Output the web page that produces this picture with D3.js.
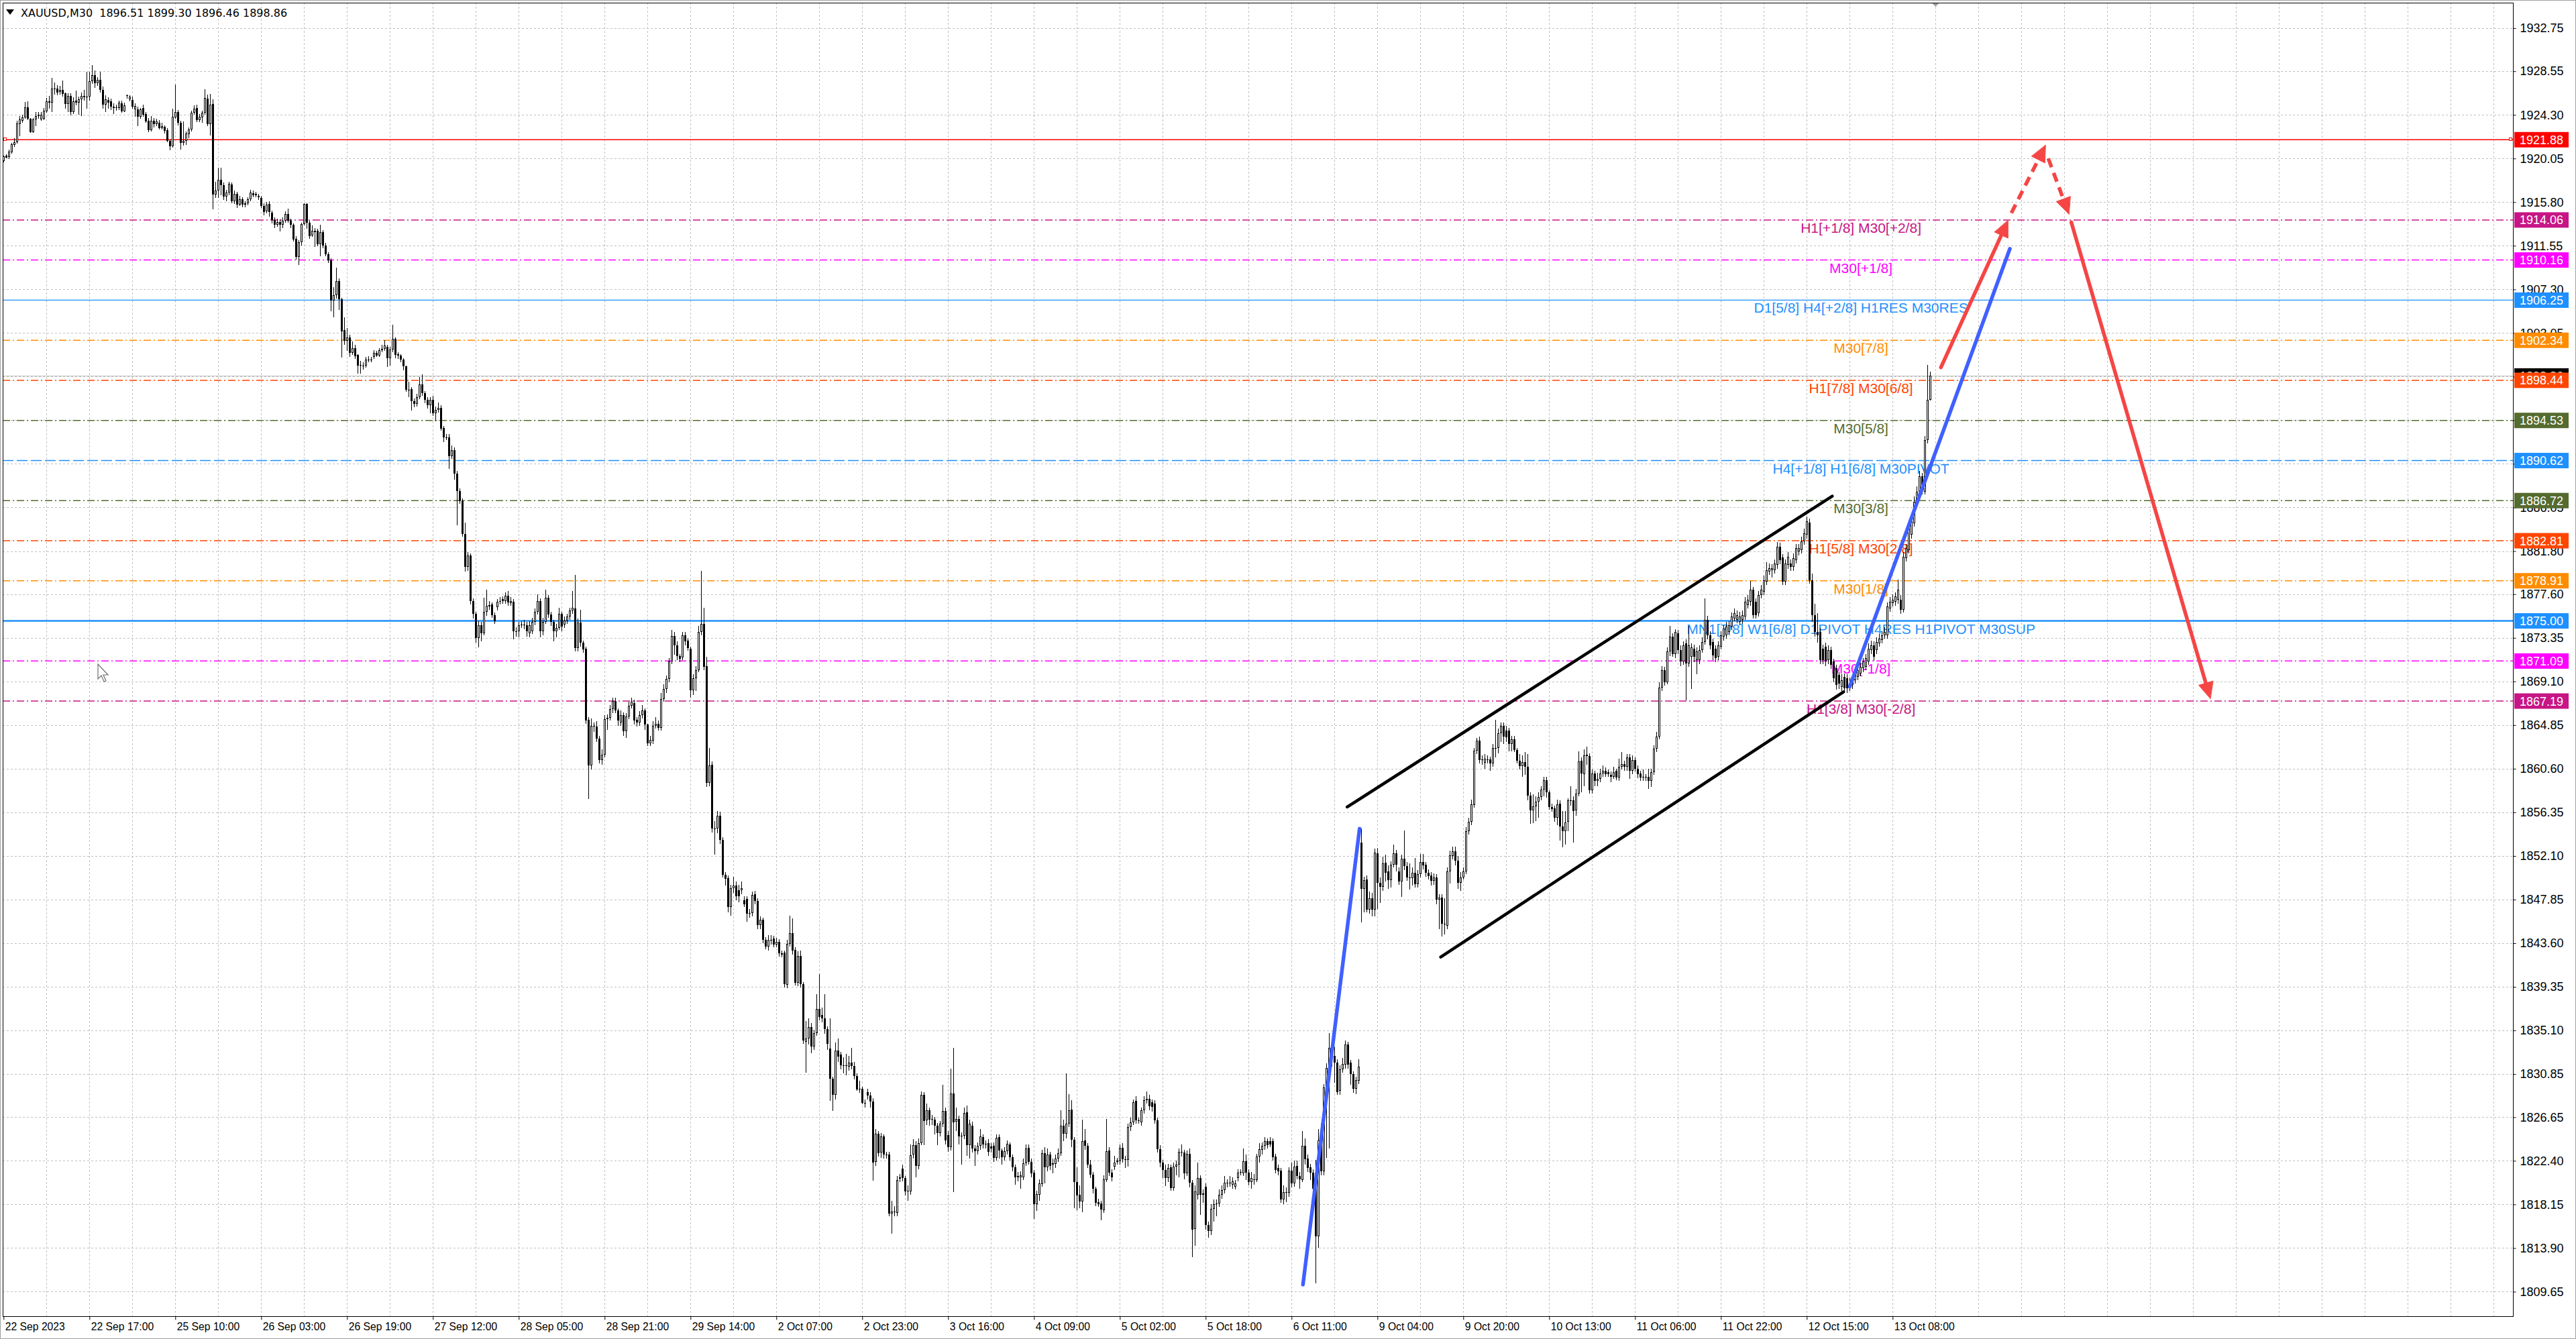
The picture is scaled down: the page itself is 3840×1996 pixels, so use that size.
<!DOCTYPE html>
<html><head><meta charset="utf-8">
<script src="https://cdn.jsdelivr.net/npm/d3@7"></script>
<style>html,body{margin:0;padding:0;background:#fff;overflow:hidden}</style>
</head><body>
<svg id="chart" width="3840" height="1996" xmlns="http://www.w3.org/2000/svg"></svg>
<script>
// ---------------- DATA (XAUUSD M30, [open, high, low, close]) ----------------
const sep22 = [[1919.81,1920.35,1919.70,1920.29],[1920.30,1920.45,1920.05,1920.14],[1920.20,1920.90,1920.00,1920.72],[1920.68,1921.60,1920.55,1921.44],[1921.38,1922.00,1921.20,1921.66],[1921.66,1923.73,1921.50,1923.45],[1923.40,1924.17,1922.20,1923.84],[1923.73,1924.30,1923.50,1924.06],[1924.06,1925.58,1923.90,1925.04],[1925.04,1925.60,1923.80,1923.95],[1923.90,1924.00,1922.55,1922.64],[1922.64,1924.00,1922.55,1923.84],[1923.84,1924.60,1923.20,1924.21],[1924.32,1924.56,1923.90,1924.21],[1923.84,1924.56,1923.70,1924.34],[1923.90,1925.00,1923.80,1924.71],[1924.65,1925.95,1924.50,1925.63],[1925.47,1926.13,1924.90,1925.63],[1925.47,1927.91,1924.60,1926.89],[1926.89,1927.43,1926.30,1926.78],[1926.85,1927.20,1926.20,1926.45],[1926.52,1927.10,1926.30,1926.74],[1926.74,1927.65,1926.10,1926.34],[1926.39,1926.50,1924.90,1925.36],[1925.36,1926.40,1924.60,1926.13],[1926.13,1926.40,1924.27,1924.60],[1924.60,1926.00,1924.40,1925.63],[1925.69,1926.67,1925.20,1925.52],[1925.52,1926.10,1924.30,1925.80],[1925.80,1926.50,1924.17,1926.13],[1926.13,1926.74,1925.70,1926.02],[1926.02,1928.52,1924.93,1926.08],[1926.08,1928.52,1925.70,1927.61],[1927.61,1929.13,1927.30,1928.20],[1928.15,1928.63,1926.90,1927.37],[1927.37,1928.00,1927.10,1927.70],[1927.70,1928.52,1926.50,1926.71],[1926.71,1927.04,1924.90,1925.30],[1925.30,1926.20,1924.60,1925.80],[1925.74,1926.00,1924.90,1925.52],[1925.63,1925.90,1924.80,1925.08],[1925.12,1925.40,1924.40,1924.99],[1925.04,1925.30,1924.70,1924.97],[1924.97,1925.70,1924.80,1925.47],[1925.43,1925.70,1924.50,1924.67],[1924.67,1925.50,1924.60,1925.21]];
const sep25 = [[1926.21,1926.30,1925.90,1926.13],[1925.80,1926.20,1925.60,1926.08],[1925.76,1926.10,1924.90,1925.12],[1924.82,1925.40,1924.10,1925.19],[1924.86,1925.10,1923.19,1924.10],[1924.10,1925.00,1923.90,1924.86],[1924.97,1925.30,1924.10,1924.34],[1924.38,1924.60,1923.50,1923.69],[1923.73,1924.00,1922.60,1922.82],[1922.82,1924.17,1922.70,1923.73],[1923.73,1924.00,1923.10,1923.38],[1923.38,1923.90,1923.20,1923.66],[1923.56,1923.80,1922.90,1923.03],[1923.03,1923.50,1922.90,1923.19],[1923.12,1923.30,1922.50,1922.75],[1922.79,1923.00,1921.66,1921.77],[1921.77,1921.90,1920.85,1921.22],[1921.22,1924.93,1921.12,1924.10],[1924.06,1927.26,1923.90,1924.60],[1924.60,1924.80,1923.30,1923.51],[1923.51,1923.70,1920.94,1921.55],[1921.55,1923.66,1921.30,1921.77],[1921.77,1922.70,1921.40,1922.47],[1922.42,1923.10,1922.00,1922.86],[1922.86,1924.70,1922.70,1924.49],[1924.49,1925.20,1924.30,1924.93],[1924.97,1925.30,1923.60,1923.80],[1923.80,1924.40,1923.60,1924.10],[1924.06,1924.70,1923.50,1924.49],[1924.49,1926.80,1924.30,1925.95],[1925.86,1926.30,1923.20,1923.40],[1923.40,1926.34,1922.31,1925.32],[1925.36,1925.80,1915.08,1916.54],[1916.54,1917.80,1916.20,1916.91],[1916.91,1919.15,1916.20,1917.96],[1917.96,1919.15,1916.50,1917.48],[1917.48,1917.70,1916.00,1916.32],[1916.32,1917.00,1915.90,1916.76],[1916.76,1917.80,1916.50,1917.59],[1917.52,1917.70,1915.70,1915.89],[1915.89,1916.90,1915.60,1916.58],[1916.58,1916.80,1915.23,1915.56],[1915.56,1916.40,1915.40,1916.11],[1916.11,1916.30,1915.30,1915.56],[1915.56,1915.90,1915.30,1915.67],[1915.67,1916.30,1915.50,1916.06]];
const sep26 = [[1916.11,1917.00,1915.90,1916.71],[1916.69,1916.90,1916.30,1916.48],[1916.58,1916.80,1916.30,1916.48],[1916.41,1916.60,1916.00,1916.26],[1916.21,1916.40,1915.20,1915.41],[1915.45,1915.70,1914.50,1914.84],[1914.91,1915.80,1914.70,1915.56],[1915.63,1915.90,1914.40,1914.84],[1914.80,1915.00,1913.70,1914.03],[1914.03,1914.30,1913.27,1913.60],[1913.60,1914.20,1913.40,1913.88],[1913.88,1914.10,1912.95,1913.60],[1913.57,1914.30,1913.30,1913.98],[1913.98,1914.90,1913.80,1914.61],[1914.61,1915.14,1913.80,1913.98],[1913.98,1914.20,1913.30,1913.57],[1913.57,1913.70,1911.94,1912.19],[1912.25,1912.50,1910.20,1910.43],[1910.43,1912.10,1909.68,1911.88],[1911.88,1913.80,1911.60,1913.63],[1913.63,1915.70,1913.50,1915.61],[1915.61,1915.70,1913.20,1913.82],[1913.82,1914.00,1912.25,1912.50],[1912.57,1913.50,1912.40,1912.98],[1912.98,1913.30,1911.47,1912.91],[1912.98,1913.20,1911.50,1911.69],[1911.69,1913.57,1910.53,1912.88],[1912.88,1913.10,1911.30,1911.56],[1911.56,1911.80,1910.50,1910.75],[1910.75,1910.90,1909.90,1910.15],[1910.15,1910.30,1905.19,1906.23],[1906.23,1907.50,1904.57,1906.76],[1906.76,1909.43,1906.40,1908.08],[1908.11,1908.40,1905.30,1906.36],[1906.36,1906.50,1900.65,1903.22],[1903.31,1904.60,1901.90,1902.31],[1902.31,1903.50,1901.30,1902.59],[1902.59,1902.90,1900.70,1901.12],[1901.12,1902.20,1900.90,1901.59],[1901.59,1901.90,1900.50,1900.80],[1900.90,1901.00,1899.10,1899.86],[1899.96,1900.30,1899.08,1899.86],[1899.86,1900.20,1899.50,1899.89],[1899.89,1900.70,1899.70,1900.43],[1900.43,1900.80,1900.20,1900.49],[1900.49,1900.70,1900.20,1900.40]];
const sep27 = [[1900.71,1901.40,1900.50,1901.12],[1901.09,1901.30,1900.70,1900.87],[1900.87,1901.60,1900.70,1901.37],[1901.37,1901.90,1901.20,1901.52],[1901.52,1902.37,1901.30,1901.81],[1901.71,1901.90,1899.71,1900.58],[1900.58,1901.70,1899.90,1901.43],[1901.43,1903.88,1901.20,1902.46],[1902.46,1902.60,1900.60,1900.90],[1900.96,1901.20,1900.50,1900.84],[1900.84,1901.00,1900.20,1900.43],[1900.43,1900.60,1899.40,1899.80],[1899.80,1899.90,1897.30,1897.51],[1897.51,1898.30,1896.80,1897.55],[1897.57,1897.80,1895.47,1896.41],[1896.41,1896.70,1895.80,1896.16],[1896.16,1897.10,1895.90,1896.82],[1896.82,1898.76,1896.60,1898.07],[1898.04,1899.01,1896.90,1897.20],[1897.20,1897.40,1896.20,1896.57],[1896.57,1896.80,1895.70,1896.00],[1896.00,1896.80,1895.25,1896.57],[1896.57,1896.90,1895.00,1895.25],[1895.25,1895.90,1894.44,1895.56],[1895.56,1896.30,1895.30,1895.78],[1895.78,1896.00,1893.50,1893.75],[1893.81,1894.00,1892.40,1892.87],[1892.87,1893.20,1892.60,1892.84],[1892.87,1893.20,1889.82,1891.02],[1891.02,1892.10,1890.80,1891.64],[1891.64,1891.90,1888.73,1889.35],[1889.35,1889.60,1884.33,1887.63],[1887.63,1887.90,1886.40,1886.69],[1886.75,1886.90,1883.20,1883.46],[1883.46,1884.60,1879.80,1880.26],[1880.26,1881.70,1879.90,1881.36],[1881.36,1881.60,1876.60,1876.96],[1876.96,1877.20,1875.24,1875.71],[1875.71,1875.90,1872.88,1873.36],[1873.36,1875.00,1872.41,1874.61],[1874.61,1874.90,1873.00,1873.82],[1873.82,1877.28,1873.60,1875.86],[1875.86,1878.06,1875.50,1876.49],[1876.56,1876.90,1876.10,1876.43],[1876.59,1876.80,1875.30,1875.55],[1875.55,1875.80,1874.70,1874.99]];
const sep28 = [[1876.34,1877.10,1876.00,1876.87],[1876.87,1877.30,1876.60,1876.96],[1877.12,1877.40,1876.70,1876.96],[1876.96,1877.80,1876.70,1877.43],[1877.43,1877.90,1876.50,1876.80],[1876.74,1877.30,1876.50,1876.96],[1876.87,1877.10,1873.20,1873.98],[1873.98,1874.40,1873.50,1874.00],[1873.98,1874.90,1873.40,1874.55],[1874.55,1875.00,1874.30,1874.67],[1874.67,1875.10,1874.20,1874.65],[1874.61,1874.90,1873.50,1873.98],[1873.82,1875.00,1873.40,1874.61],[1873.98,1875.30,1873.70,1874.92],[1874.92,1876.20,1874.60,1875.86],[1875.86,1877.60,1875.60,1876.96],[1876.96,1877.20,1873.40,1873.98],[1873.98,1875.30,1873.60,1874.92],[1874.92,1878.06,1874.70,1877.28],[1877.28,1877.50,1875.30,1875.61],[1875.61,1875.90,1874.50,1874.92],[1874.92,1875.10,1873.00,1873.98],[1873.98,1874.70,1873.40,1874.30],[1874.30,1876.30,1874.10,1875.71],[1875.71,1875.90,1874.00,1874.45],[1874.62,1875.40,1874.30,1875.01],[1875.01,1875.70,1874.70,1875.40],[1875.40,1876.30,1875.10,1875.99],[1875.99,1877.93,1875.70,1876.26],[1876.18,1879.49,1872.00,1872.36],[1872.36,1875.20,1872.00,1874.82],[1874.82,1876.10,1872.50,1872.87],[1872.87,1873.10,1871.90,1872.20],[1872.28,1872.50,1865.00,1865.27],[1865.35,1865.60,1857.67,1860.90],[1860.90,1865.50,1860.50,1864.80],[1864.68,1865.10,1864.20,1864.80],[1864.68,1865.20,1863.20,1863.51],[1863.51,1863.80,1861.10,1861.45],[1861.45,1862.50,1861.00,1861.96],[1861.96,1865.80,1861.70,1865.46],[1865.46,1865.90,1864.40,1865.58],[1865.58,1866.80,1865.30,1866.44],[1866.44,1867.50,1866.00,1867.22],[1867.22,1867.50,1866.00,1866.25],[1866.25,1866.50,1864.80,1865.27]];
const sep29 = [[1865.07,1866.30,1864.80,1865.85],[1865.85,1866.10,1863.80,1864.22],[1864.22,1866.00,1863.60,1865.66],[1865.66,1867.10,1865.40,1866.74],[1866.74,1867.50,1866.50,1867.14],[1867.02,1867.30,1864.90,1865.27],[1865.35,1865.60,1864.70,1865.07],[1865.07,1866.20,1864.80,1865.85],[1865.85,1866.80,1865.50,1866.25],[1866.25,1866.50,1864.40,1864.88],[1864.88,1865.00,1862.80,1863.05],[1863.05,1863.80,1862.80,1863.40],[1863.32,1865.20,1863.00,1864.80],[1864.80,1865.60,1864.50,1865.00],[1864.96,1865.30,1864.30,1864.57],[1864.57,1868.00,1864.30,1867.41],[1867.41,1868.80,1867.10,1868.39],[1868.39,1869.70,1868.00,1869.36],[1869.36,1871.40,1869.00,1871.04],[1871.04,1874.11,1870.80,1873.53],[1873.53,1873.90,1871.70,1872.60],[1872.60,1873.00,1871.20,1871.58],[1871.58,1871.80,1871.00,1871.31],[1871.43,1873.90,1871.20,1873.57],[1873.57,1873.90,1872.60,1872.98],[1873.06,1873.30,1872.10,1872.36],[1872.28,1872.50,1867.50,1868.27],[1868.27,1869.80,1867.80,1869.44],[1869.44,1870.60,1868.20,1870.22],[1870.22,1874.50,1870.00,1873.92],[1873.92,1879.88,1873.60,1874.70],[1874.70,1876.30,1870.20,1870.53],[1870.61,1871.50,1858.80,1859.23],[1859.23,1862.62,1858.90,1860.90],[1860.98,1861.30,1854.40,1854.75],[1854.75,1855.50,1852.21,1854.80],[1854.75,1856.50,1854.30,1855.99],[1855.99,1856.40,1853.30,1853.66],[1853.66,1853.90,1850.00,1850.27],[1850.27,1850.50,1849.20,1849.88],[1849.95,1850.20,1846.60,1847.15],[1847.15,1849.30,1846.30,1848.98],[1848.98,1850.10,1848.50,1849.21],[1849.21,1849.60,1847.80,1848.20],[1848.78,1849.30,1847.60,1848.20],[1848.74,1849.60,1848.40,1848.98]];
const oct02 = [[1847.81,1848.20,1847.10,1847.42],[1847.93,1848.20,1845.70,1846.48],[1846.56,1846.90,1846.10,1846.50],[1846.56,1848.60,1846.20,1848.32],[1848.40,1848.70,1847.40,1847.73],[1847.73,1848.00,1845.00,1845.39],[1845.39,1846.20,1845.00,1845.86],[1845.86,1846.10,1843.60,1843.91],[1843.91,1844.20,1843.00,1843.25],[1843.25,1844.40,1842.90,1843.91],[1843.91,1844.40,1843.50,1843.95],[1844.03,1844.30,1843.20,1843.45],[1843.45,1844.10,1843.20,1843.76],[1843.76,1844.00,1842.30,1842.59],[1842.59,1842.90,1842.20,1842.51],[1842.67,1842.90,1839.30,1839.63],[1839.55,1843.90,1839.20,1843.52],[1843.52,1846.29,1843.30,1844.61],[1844.61,1846.00,1842.50,1842.86],[1842.94,1843.20,1839.50,1839.74],[1839.74,1842.80,1839.40,1842.35],[1842.35,1842.90,1839.30,1839.63],[1839.63,1839.80,1833.80,1834.09],[1834.01,1836.00,1830.97,1834.29],[1834.29,1836.30,1833.70,1835.46],[1835.46,1835.80,1832.90,1833.51],[1833.51,1835.20,1833.20,1834.87],[1834.87,1838.60,1834.60,1837.21],[1837.21,1840.60,1836.10,1836.43],[1836.63,1837.30,1835.90,1836.31],[1836.31,1838.60,1834.80,1835.26],[1835.26,1835.50,1833.20,1833.78],[1833.31,1836.30,1828.25,1830.39],[1830.39,1830.60,1827.27,1828.83],[1828.83,1833.90,1828.40,1833.12],[1833.12,1834.30,1832.00,1832.53],[1832.73,1833.00,1831.30,1831.68],[1831.68,1832.50,1830.90,1831.70],[1831.68,1832.80,1830.70,1831.62],[1831.55,1832.60,1831.20,1831.95],[1831.95,1833.40,1831.30,1831.62],[1831.62,1832.00,1830.30,1830.64],[1830.64,1830.90,1829.20,1829.37],[1829.37,1830.20,1829.00,1829.40],[1829.42,1829.60,1827.90,1828.02],[1828.02,1828.40,1827.60,1828.05]];
const oct03 = [[1829.09,1829.40,1828.40,1828.76],[1828.76,1829.10,1827.60,1828.18],[1828.18,1828.50,1820.44,1822.23],[1822.29,1825.50,1821.90,1825.02],[1825.02,1825.30,1822.80,1823.17],[1823.21,1825.10,1822.70,1824.80],[1824.80,1825.00,1822.60,1822.99],[1822.99,1823.30,1822.60,1822.95],[1822.99,1823.30,1817.02,1817.24],[1817.28,1818.50,1815.32,1817.44],[1817.44,1818.00,1817.00,1817.40],[1817.33,1820.90,1817.00,1820.55],[1820.66,1821.10,1820.30,1820.77],[1821.64,1822.00,1820.40,1820.73],[1820.73,1820.90,1819.00,1819.42],[1819.42,1820.00,1818.50,1819.46],[1819.42,1824.00,1819.10,1822.95],[1822.99,1824.50,1822.60,1823.93],[1823.93,1824.30,1820.80,1821.90],[1821.90,1824.60,1821.60,1824.15],[1824.15,1829.16,1823.90,1828.83],[1828.83,1829.10,1823.90,1826.26],[1826.32,1828.00,1825.90,1827.30],[1827.30,1827.60,1825.80,1826.43],[1826.48,1826.90,1825.90,1826.43],[1826.43,1826.70,1825.00,1825.82],[1825.82,1826.10,1823.90,1825.13],[1825.13,1826.30,1824.80,1826.00],[1826.00,1829.81,1825.70,1827.26],[1827.26,1827.60,1824.00,1824.36],[1824.91,1825.30,1823.30,1823.71],[1823.71,1831.40,1823.40,1828.98],[1828.98,1833.40,1819.35,1826.15],[1826.22,1827.60,1825.30,1826.48],[1826.48,1826.80,1824.00,1824.80],[1824.87,1825.20,1822.00,1824.76],[1824.87,1827.60,1824.50,1827.09],[1827.13,1827.80,1822.90,1823.93],[1823.93,1826.40,1822.60,1826.00],[1825.82,1826.20,1823.20,1823.60],[1823.60,1823.90,1821.90,1823.34],[1823.34,1824.20,1823.00,1823.86],[1823.86,1825.50,1823.50,1824.80],[1824.73,1825.00,1823.60,1823.99],[1823.99,1824.40,1823.60,1824.04],[1824.10,1824.50,1822.90,1823.27]];
const oct04 = [[1823.78,1824.10,1823.20,1823.60],[1823.86,1824.20,1822.30,1822.69],[1822.69,1825.00,1822.40,1824.65],[1824.69,1825.00,1822.60,1823.43],[1823.38,1823.60,1822.00,1822.73],[1822.73,1823.70,1822.40,1823.34],[1823.34,1824.40,1823.00,1824.04],[1823.99,1824.20,1822.40,1822.73],[1822.73,1823.00,1821.40,1821.75],[1821.75,1822.00,1820.10,1820.77],[1820.77,1821.30,1820.40,1820.92],[1820.81,1821.40,1819.70,1820.99],[1820.77,1822.60,1820.50,1822.18],[1822.18,1824.00,1821.90,1823.60],[1823.64,1824.00,1822.00,1822.29],[1822.29,1822.60,1820.80,1821.20],[1821.25,1821.50,1816.74,1818.15],[1818.15,1819.50,1817.50,1819.13],[1819.07,1820.60,1818.50,1820.22],[1820.16,1823.50,1819.90,1823.17],[1823.17,1823.70,1820.20,1821.75],[1821.75,1823.60,1821.40,1822.99],[1822.99,1823.30,1821.50,1821.90],[1822.03,1822.60,1821.20,1822.18],[1822.08,1823.00,1821.70,1822.62],[1822.62,1823.60,1822.30,1823.17],[1823.17,1827.30,1822.90,1825.82],[1825.82,1826.40,1824.30,1825.02],[1825.02,1830.90,1824.60,1826.00],[1826.00,1828.90,1825.70,1827.35],[1827.41,1828.30,1823.70,1824.43],[1824.47,1824.70,1817.80,1820.33],[1820.33,1821.80,1817.60,1819.03],[1819.07,1820.00,1817.80,1818.42],[1818.42,1826.40,1817.40,1824.32],[1824.36,1825.50,1823.50,1823.86],[1823.86,1824.10,1821.70,1822.03],[1822.03,1822.50,1820.70,1821.03],[1821.03,1821.30,1819.20,1819.68],[1819.68,1819.90,1818.00,1818.33],[1818.37,1818.70,1817.90,1818.20],[1818.26,1818.50,1816.63,1817.65],[1817.61,1821.00,1817.30,1820.60],[1820.55,1826.50,1820.30,1823.34],[1823.38,1823.70,1820.90,1821.25],[1821.25,1821.60,1820.40,1820.81]];
const oct05 = [[1821.86,1822.90,1821.50,1822.25],[1822.29,1822.70,1822.00,1822.40],[1822.34,1824.00,1822.00,1823.64],[1823.64,1824.10,1822.20,1822.56],[1822.56,1822.90,1821.70,1822.47],[1822.49,1826.00,1821.84,1825.70],[1825.70,1826.60,1825.30,1826.18],[1826.18,1828.40,1825.90,1828.10],[1828.26,1828.70,1826.00,1826.34],[1826.34,1826.60,1826.00,1826.27],[1826.18,1827.60,1825.80,1827.30],[1827.30,1828.70,1827.00,1828.33],[1828.33,1829.16,1828.00,1828.42],[1828.42,1828.80,1827.30,1827.69],[1828.10,1828.40,1827.20,1827.62],[1828.01,1828.30,1826.00,1826.34],[1826.34,1826.60,1823.20,1823.51],[1823.51,1823.90,1821.80,1822.23],[1822.23,1822.50,1820.70,1821.52],[1821.52,1822.00,1819.92,1820.72],[1820.72,1822.10,1820.30,1821.68],[1821.78,1822.00,1819.50,1819.76],[1819.76,1822.20,1819.50,1821.84],[1821.84,1822.40,1821.00,1822.00],[1822.00,1823.60,1820.80,1823.29],[1823.29,1824.00,1822.80,1823.25],[1823.19,1823.50,1820.60,1821.20],[1821.20,1823.40,1820.90,1823.06],[1823.06,1823.60,1819.80,1820.24],[1820.24,1820.50,1813.02,1815.68],[1815.75,1820.00,1814.14,1819.44],[1819.12,1822.20,1818.60,1820.72],[1820.72,1821.00,1817.10,1819.12],[1819.12,1819.60,1818.30,1819.20],[1819.86,1820.20,1815.70,1816.13],[1816.13,1816.50,1814.90,1815.58],[1815.58,1818.20,1815.20,1817.73],[1817.73,1818.60,1816.50,1818.15],[1818.15,1818.60,1817.00,1818.25],[1818.25,1819.60,1817.90,1819.12],[1819.12,1820.00,1818.70,1819.53],[1819.53,1820.90,1819.20,1820.24],[1820.24,1820.60,1819.80,1820.17],[1820.17,1820.90,1819.90,1820.24],[1820.08,1820.80,1819.70,1820.40],[1819.86,1820.50,1819.60,1820.17]];
const oct06 = [[1820.72,1821.60,1820.40,1821.27],[1821.27,1821.60,1821.00,1821.30],[1821.20,1823.60,1820.90,1822.33],[1822.33,1823.00,1820.50,1821.27],[1821.27,1821.60,1820.00,1820.30],[1820.30,1821.30,1819.70,1820.72],[1820.62,1821.10,1820.10,1820.60],[1820.56,1823.10,1820.30,1822.81],[1822.81,1824.10,1822.20,1823.51],[1823.45,1824.20,1823.00,1823.83],[1823.83,1824.70,1823.50,1824.35],[1824.35,1824.60,1823.60,1823.93],[1824.32,1824.70,1823.70,1824.00],[1824.32,1824.60,1822.40,1822.74],[1822.81,1823.10,1821.20,1821.52],[1821.68,1822.00,1821.00,1821.36],[1821.46,1821.70,1818.30,1818.63],[1818.63,1820.00,1818.20,1819.34],[1819.34,1819.80,1818.40,1819.28],[1819.28,1821.80,1818.90,1821.46],[1821.46,1822.20,1819.80,1820.17],[1820.17,1822.40,1819.90,1821.84],[1821.91,1822.40,1820.60,1820.95],[1820.95,1821.30,1819.70,1820.62],[1820.56,1825.30,1820.30,1823.83],[1823.83,1824.60,1822.00,1822.55],[1822.65,1823.00,1821.30,1821.68],[1821.78,1822.10,1820.50,1821.27],[1821.27,1821.60,1818.00,1819.66],[1821.20,1822.50,1810.45,1815.04],[1815.04,1825.50,1813.90,1824.41],[1823.93,1826.00,1821.00,1821.36],[1821.36,1829.90,1821.00,1829.55],[1829.55,1831.90,1822.70,1831.47],[1831.47,1834.84,1823.60,1833.40],[1833.40,1833.80,1831.60,1832.60],[1832.60,1833.50,1830.00,1831.96],[1831.96,1832.30,1828.80,1829.07],[1829.23,1831.70,1828.80,1831.31],[1831.31,1832.40,1831.00,1831.86],[1831.80,1834.10,1831.40,1833.72],[1833.72,1834.00,1831.40,1831.80],[1831.96,1832.20,1829.80,1830.83],[1830.83,1831.10,1829.00,1829.39],[1829.39,1830.60,1828.90,1830.25],[1830.19,1832.28,1829.90,1831.57]];
const oct09 = [[1853.37,1854.75,1845.60,1848.87],[1848.87,1850.10,1846.60,1849.77],[1849.84,1850.20,1846.60,1846.88],[1846.88,1848.60,1846.50,1848.01],[1848.01,1848.50,1846.20,1846.88],[1846.88,1852.80,1846.20,1852.40],[1852.34,1852.90,1846.90,1849.45],[1849.45,1850.00,1847.50,1849.06],[1849.06,1852.00,1848.70,1851.38],[1851.44,1852.20,1849.60,1850.48],[1850.57,1851.20,1848.90,1849.77],[1849.77,1851.60,1849.00,1851.22],[1851.22,1853.20,1851.00,1852.34],[1852.34,1852.70,1850.60,1851.22],[1850.57,1851.00,1849.30,1849.61],[1849.61,1852.20,1848.10,1851.86],[1851.86,1854.59,1850.70,1851.12],[1851.12,1851.50,1849.70,1850.03],[1850.03,1851.40,1848.80,1850.00],[1849.97,1851.00,1849.20,1850.47],[1850.47,1851.90,1849.00,1849.38],[1849.38,1850.70,1849.00,1850.36],[1850.36,1852.30,1850.00,1851.51],[1851.51,1852.30,1850.80,1851.19],[1851.23,1851.50,1850.10,1850.47],[1850.47,1850.80,1849.80,1850.14],[1850.18,1850.50,1849.20,1849.66],[1849.66,1850.40,1849.30,1850.03],[1850.03,1850.30,1847.40,1847.85],[1847.85,1848.40,1845.00,1848.03],[1848.03,1848.40,1844.26,1845.52],[1845.52,1848.00,1844.48,1845.46],[1845.30,1851.00,1845.00,1850.58],[1850.58,1852.60,1849.40,1852.15],[1852.10,1853.00,1851.80,1852.58],[1852.58,1853.00,1851.20,1851.62],[1851.62,1852.10,1848.90,1849.49],[1849.49,1850.50,1848.70,1850.03],[1850.03,1851.00,1849.80,1850.62],[1850.62,1854.90,1850.30,1854.50],[1854.50,1855.80,1854.20,1855.41],[1855.41,1857.60,1855.10,1857.11],[1857.07,1862.60,1856.80,1862.38],[1862.38,1863.60,1862.00,1863.32],[1863.32,1863.70,1861.10,1861.47],[1861.47,1861.90,1861.00,1861.50]];
const oct10 = [[1861.21,1862.00,1860.60,1861.54],[1861.50,1861.90,1861.10,1861.47],[1861.51,1861.80,1860.40,1861.10],[1861.10,1863.00,1860.80,1862.60],[1862.60,1865.39,1861.70,1862.58],[1862.60,1864.50,1862.10,1864.08],[1864.08,1865.10,1863.20,1864.78],[1864.78,1865.10,1863.00,1863.76],[1864.35,1864.80,1863.20,1863.69],[1864.35,1864.60,1862.30,1863.00],[1863.00,1863.80,1862.30,1863.50],[1863.50,1863.80,1862.20,1862.45],[1862.45,1862.60,1861.10,1861.40],[1861.40,1862.00,1860.50,1860.88],[1860.88,1861.90,1859.80,1861.25],[1861.25,1862.20,1860.00,1860.82],[1860.82,1862.00,1857.50,1857.98],[1857.98,1858.30,1855.20,1856.57],[1856.57,1858.10,1855.30,1856.94],[1856.94,1857.90,1855.50,1857.37],[1857.37,1858.30,1855.80,1857.87],[1857.87,1858.90,1857.50,1858.59],[1858.59,1859.80,1857.90,1859.47],[1859.47,1859.80,1857.80,1858.31],[1858.31,1858.50,1856.60,1856.89],[1856.89,1857.20,1856.40,1856.68],[1856.74,1857.00,1855.40,1855.85],[1855.85,1857.60,1855.10,1857.16],[1857.22,1857.50,1853.60,1854.98],[1854.98,1856.50,1852.97,1854.54],[1854.54,1856.50,1853.20,1855.37],[1855.41,1857.70,1854.50,1857.50],[1857.50,1858.86,1857.00,1857.45],[1857.50,1857.90,1853.40,1856.50],[1856.57,1858.60,1856.00,1858.20],[1858.20,1862.30,1857.90,1861.32],[1861.36,1861.70,1858.30,1860.12],[1860.05,1862.50,1858.90,1861.91],[1861.95,1862.78,1861.00,1861.86],[1861.86,1862.10,1858.20,1858.53],[1858.53,1860.50,1858.20,1860.12],[1860.12,1860.40,1858.90,1859.40],[1859.40,1860.20,1858.90,1859.62],[1859.62,1860.60,1859.30,1860.16],[1860.16,1860.90,1859.80,1860.42],[1860.42,1860.70,1859.80,1860.05]];
const oct11 = [[1860.27,1860.50,1859.80,1860.05],[1860.01,1860.30,1859.30,1859.84],[1859.84,1860.80,1859.60,1860.27],[1860.38,1860.60,1859.50,1859.73],[1859.73,1861.60,1859.40,1860.77],[1860.77,1862.20,1860.50,1861.03],[1861.03,1861.40,1860.40,1860.77],[1860.77,1862.00,1860.40,1861.69],[1861.69,1862.00,1859.60,1860.42],[1860.42,1861.90,1860.10,1861.47],[1861.47,1861.70,1860.30,1860.60],[1860.60,1860.90,1859.70,1860.05],[1860.12,1860.40,1859.40,1859.73],[1859.77,1860.50,1859.40,1859.79],[1859.79,1860.10,1859.40,1859.77],[1859.79,1860.60,1858.60,1859.44],[1859.44,1860.60,1858.80,1860.27],[1860.27,1862.90,1860.00,1862.56],[1862.52,1864.20,1862.20,1863.76],[1863.76,1869.00,1863.50,1868.50],[1868.50,1870.60,1868.20,1870.20],[1870.20,1870.50,1868.70,1869.00],[1869.00,1872.40,1868.80,1872.00],[1872.00,1874.50,1871.60,1873.50],[1873.50,1873.80,1871.50,1871.80],[1871.80,1874.20,1871.40,1873.90],[1873.79,1874.10,1871.80,1872.16],[1872.16,1872.60,1870.60,1871.02],[1871.02,1873.00,1870.70,1872.65],[1872.81,1873.20,1867.29,1870.86],[1870.86,1874.50,1870.50,1872.65],[1871.51,1872.80,1868.40,1872.39],[1872.32,1872.70,1871.00,1871.51],[1871.19,1872.40,1869.80,1872.00],[1871.19,1872.60,1870.80,1872.16],[1872.16,1873.40,1871.90,1872.97],[1872.97,1877.20,1872.70,1875.09],[1875.09,1875.50,1873.20,1873.62],[1873.62,1874.00,1872.20,1872.65],[1872.97,1873.30,1871.20,1871.67],[1872.32,1872.60,1871.00,1871.35],[1871.51,1873.00,1871.20,1872.65],[1872.49,1874.00,1872.20,1873.62],[1873.46,1874.60,1873.10,1874.27],[1873.62,1874.90,1873.30,1874.44],[1873.95,1875.00,1873.60,1874.60]];
const oct12 = [[1874.44,1875.80,1874.10,1875.41],[1875.25,1876.20,1875.00,1875.74],[1875.09,1876.00,1874.80,1875.58],[1874.92,1875.90,1874.60,1875.41],[1875.09,1876.00,1874.70,1875.58],[1875.41,1877.30,1875.10,1876.87],[1876.55,1877.50,1876.20,1877.04],[1876.87,1878.90,1876.50,1878.01],[1878.01,1878.30,1875.20,1875.58],[1876.87,1877.20,1875.20,1875.58],[1875.74,1877.90,1875.40,1877.52],[1877.52,1878.50,1877.20,1878.01],[1877.85,1879.40,1877.50,1878.99],[1878.82,1880.70,1878.50,1879.96],[1879.80,1880.60,1879.50,1880.13],[1879.96,1880.50,1879.20,1880.13],[1879.96,1881.00,1879.60,1880.61],[1880.45,1882.70,1880.10,1882.24],[1882.24,1882.60,1880.50,1880.94],[1881.16,1881.50,1878.50,1878.82],[1878.82,1881.00,1878.50,1880.61],[1880.45,1881.70,1880.10,1881.26],[1880.61,1881.00,1879.90,1880.29],[1880.29,1881.60,1879.90,1881.10],[1880.94,1882.50,1880.60,1882.07],[1881.75,1882.50,1881.40,1882.07],[1881.91,1883.20,1881.60,1882.73],[1882.73,1884.00,1882.40,1883.54],[1883.38,1885.17,1883.00,1884.68],[1884.61,1885.00,1878.60,1878.99],[1878.99,1879.60,1874.90,1875.58],[1875.58,1876.70,1873.50,1873.95],[1873.95,1875.74,1872.90,1873.62],[1873.95,1874.30,1870.80,1871.19],[1872.32,1872.70,1870.80,1871.19],[1872.49,1872.90,1870.60,1871.02],[1871.19,1872.60,1870.80,1872.16],[1872.16,1872.50,1870.30,1870.70],[1871.02,1871.30,1869.00,1869.40],[1870.37,1870.70,1868.30,1868.74],[1869.72,1870.00,1868.40,1868.91],[1868.58,1869.80,1868.20,1869.24],[1869.56,1869.90,1868.10,1868.42],[1869.40,1869.80,1868.00,1868.42],[1868.58,1869.50,1868.20,1868.91],[1868.74,1869.80,1868.40,1869.40]];
const oct13 = [[1869.24,1870.10,1868.90,1869.72],[1869.56,1870.60,1869.20,1870.21],[1869.89,1870.90,1869.60,1870.54],[1870.37,1871.40,1870.00,1871.02],[1870.54,1871.80,1870.20,1871.35],[1871.02,1872.80,1870.70,1872.32],[1872.16,1873.10,1871.80,1872.65],[1872.65,1873.00,1871.10,1871.51],[1872.16,1873.40,1871.80,1872.97],[1872.81,1873.70,1872.50,1873.30],[1873.14,1874.00,1872.80,1873.62],[1873.62,1874.40,1873.30,1873.95],[1873.62,1876.80,1873.30,1876.39],[1876.22,1877.30,1875.90,1876.87],[1876.71,1877.60,1876.40,1877.04],[1876.87,1877.80,1876.50,1877.36],[1877.04,1879.00,1876.70,1878.01],[1877.04,1877.50,1875.70,1876.06],[1876.06,1881.70,1875.80,1881.26],[1881.10,1882.50,1880.80,1882.07],[1881.91,1884.60,1881.60,1884.19],[1883.38,1885.10,1883.00,1884.68],[1884.52,1887.10,1884.20,1886.63],[1886.47,1888.10,1886.10,1887.60],[1887.60,1889.60,1887.20,1889.06],[1889.06,1889.40,1887.30,1887.60],[1887.60,1893.00,1887.30,1892.64],[1892.64,1899.96,1892.30,1896.54],[1896.51,1899.30,1896.46,1898.86]];

const yTickValues = [1932.75,1928.55,1924.30,1920.05,1915.80,1911.55,1907.30,1903.05,1898.80,1894.55,1890.30,1886.05,1881.80,1877.60,1873.35,1869.10,1864.85,1860.60,1856.35,1852.10,1847.85,1843.60,1839.35,1835.10,1830.85,1826.65,1822.40,1818.15,1813.90,1809.65];
const xTickLabels = ["22 Sep 2023","22 Sep 17:00","25 Sep 10:00","26 Sep 03:00","26 Sep 19:00","27 Sep 12:00","28 Sep 05:00","28 Sep 21:00","29 Sep 14:00","2 Oct 07:00","2 Oct 23:00","3 Oct 16:00","4 Oct 09:00","5 Oct 02:00","5 Oct 18:00","6 Oct 11:00","9 Oct 04:00","9 Oct 20:00","10 Oct 13:00","11 Oct 06:00","11 Oct 22:00","12 Oct 15:00","13 Oct 08:00"];
const barsPerXTick = 32;

const levelPrices = [1921.88,1914.06,1910.16,1906.25,1902.34,1898.44,1894.53,1890.62,1886.72,1882.81,1878.91,1875.00,1871.09,1867.19];
const levelTexts = ["","H1[+1/8] M30[+2/8]","M30[+1/8]","D1[5/8] H4[+2/8] H1RES M30RES","M30[7/8]","H1[7/8] M30[6/8]","M30[5/8]","H4[+1/8] H1[6/8] M30PIVOT","M30[3/8]","H1[5/8] M30[2/8]","M30[1/8]","MN1[7/8] W1[6/8] D1PIVOT H4RES H1PIVOT M30SUP","M30[-1/8]","H1[3/8] M30[-2/8]"];
const bidPrice = 1898.86;
const titleText = "XAUUSD,M30  1896.51 1899.30 1896.46 1898.86";

// drawn objects: [barIndex, price]
const channelUpper = [[500.75,1856.87],[681.5,1887.15]];
const channelLower = [[535.6,1842.25],[685.7,1868.09]];
const blueTrend1 = [[484.25,1810.33],[505.35,1854.76]];
const blueTrend2 = [[688.0,1868.58],[747.7,1911.26]];
const redArrowUp = [[722.0,1899.70],[747.0,1914.01]];
const redDashUp = [[748.25,1914.74],[761.0,1921.34]];
const redDashDown = [[762.0,1920.06],[769.7,1914.63]];
const redArrowDown = [[770.6,1913.83],[822.4,1867.43]];
const levelLabelBar = 692.2;

// ---------------- DRAWING ----------------
const bars = [sep22,sep25,sep26,sep27,sep28,sep29,oct02,oct03,oct04,oct05,oct06,oct09,oct10,oct11,oct12,oct13].flat();
const svg = d3.select("#chart");
const P = {l:4, t:4, r:3746, b:1962};
const FONT = "'Liberation Sans', Arial, sans-serif";

const x = d3.scaleLinear().domain([0, 935]).range([5.3, 5.3 + 4*935]);
const y = d3.scaleLinear().domain([1807.28, 1935.23]).range([1961.7, 4]);

svg.append("rect").attr("x",0).attr("y",0).attr("width",3840).attr("height",1996).attr("fill","#ffffff");

const defs = svg.append("defs");
defs.append("clipPath").attr("id","plotclip").append("rect")
  .attr("x",P.l).attr("y",P.t).attr("width",P.r-P.l).attr("height",P.b-P.t);

const plot = svg.append("g").attr("clip-path","url(#plotclip)");

// grid
const grid = plot.append("g").attr("stroke","#c0c0c0").attr("stroke-width",1).attr("stroke-dasharray","3,3").attr("shape-rendering","crispEdges");
yTickValues.forEach(v => {
  const yy = Math.round(y(v)) + 0.5;
  grid.append("line").attr("x1",P.l).attr("x2",P.r).attr("y1",yy).attr("y2",yy);
});
for (let k = 16; x(k) < P.r; k += 16) {
  const xx = Math.round(x(k)) + 0.5;
  grid.append("line").attr("x1",xx).attr("x2",xx).attr("y1",P.t).attr("y2",P.b);
}

// level lines
const levelStyle = [
  {c:"#ff0000", d:null, w:1.3},
  {c:"#c71585", d:"11,4,2,4", w:1.5},
  {c:"#ff00ff", d:"11,4,2,4", w:1.5},
  {c:"#1e90ff", d:null, w:1.3},
  {c:"#ff8c00", d:"11,4,2,4", w:1.5},
  {c:"#ff4500", d:"11,4,2,4", w:1.5},
  {c:"#556b2f", d:"11,4,2,4", w:1.5},
  {c:"#1e90ff", d:"16,5", w:1.5},
  {c:"#556b2f", d:"11,4,2,4", w:1.5},
  {c:"#ff4500", d:"11,4,2,4", w:1.5},
  {c:"#ff8c00", d:"11,4,2,4", w:1.5},
  {c:"#1e90ff", d:null, w:2.6},
  {c:"#ff00ff", d:"11,4,2,4", w:1.5},
  {c:"#c71585", d:"11,4,2,4", w:1.5}
];
// bid line
plot.append("line").attr("x1",P.l).attr("x2",P.r).attr("y1",y(bidPrice)).attr("y2",y(bidPrice))
  .attr("stroke","#c0c0c0").attr("stroke-width",1.2);

const lv = plot.append("g");
levelPrices.forEach((p,i) => {
  const s = levelStyle[i];
  lv.append("line").attr("x1",P.l).attr("x2",P.r).attr("y1",y(p)).attr("y2",y(p))
    .attr("stroke",s.c).attr("stroke-width",s.w).attr("stroke-dasharray",s.d);
});
// selection squares on the red line
[P.l+1, P.r-6].forEach(sx => {
  lv.append("rect").attr("x",sx+0.5).attr("y",Math.round(y(levelPrices[0]))-2.5).attr("width",4).attr("height",4)
    .attr("fill","#fff").attr("stroke","#ff0000").attr("stroke-width",1);
});

// level texts
const lt = plot.append("g").attr("font-family",FONT).attr("font-size",21).attr("text-anchor","middle");
levelPrices.forEach((p,i) => {
  if (!levelTexts[i]) return;
  lt.append("text").attr("x",x(levelLabelBar)).attr("y",y(p)+19).attr("fill",levelStyle[i].c).text(levelTexts[i]);
});

// candles
const cg = plot.append("g").attr("shape-rendering","crispEdges");
bars.forEach((b,i) => {
  const [o,h,l,c] = b;
  const cx = Math.round(x(i));
  const yh = Math.round(y(h)), yl = Math.round(y(l));
  const yo = Math.round(y(o)), yc = Math.round(y(c));
  cg.append("line").attr("x1",cx+0.5).attr("x2",cx+0.5).attr("y1",yh).attr("y2",Math.max(yl,yh+1)).attr("stroke","#000").attr("stroke-width",1);
  const top = Math.min(yo,yc), bot = Math.max(yo,yc);
  if (bot - top < 2) {
    cg.append("rect").attr("x",cx-1).attr("y",top).attr("width",3).attr("height",Math.max(1,bot-top)).attr("fill","#000");
  } else if (c >= o) {
    cg.append("rect").attr("x",cx-0.5).attr("y",top+0.5).attr("width",2).attr("height",bot-top-1)
      .attr("fill","#fff").attr("stroke","#000").attr("stroke-width",1);
  } else {
    cg.append("rect").attr("x",cx-1).attr("y",top).attr("width",3).attr("height",bot-top).attr("fill","#000");
  }
});

// trend lines / arrows
const line = d3.line().x(d => x(d[0])).y(d => y(d[1]));
const tg = plot.append("g").attr("fill","none").attr("stroke-linecap","round");
tg.append("path").attr("d",line(channelUpper)).attr("stroke","#000").attr("stroke-width",4.5);
tg.append("path").attr("d",line(channelLower)).attr("stroke","#000").attr("stroke-width",4.5);
tg.append("path").attr("d",line(blueTrend1)).attr("stroke","#4060ff").attr("stroke-width",5.5);
tg.append("path").attr("d",line(blueTrend2)).attr("stroke","#4060ff").attr("stroke-width",5.5);

function arrow(pts, dashed) {
  const p1 = [x(pts[0][0]), y(pts[0][1])], p2 = [x(pts[1][0]), y(pts[1][1])];
  const dx = p2[0]-p1[0], dy = p2[1]-p1[1], L = Math.hypot(dx,dy);
  const ux = dx/L, uy = dy/L, len = 24, half = 11;
  const bx = p2[0]-ux*len, by = p2[1]-uy*len;
  tg.append("line").attr("x1",p1[0]).attr("y1",p1[1]).attr("x2",bx+ux*3).attr("y2",by+uy*3)
    .attr("stroke","#f54545").attr("stroke-width",5.5).attr("stroke-dasharray",dashed ? "14,9" : null)
    .attr("stroke-linecap", dashed ? "butt" : "round");
  tg.append("path").attr("d",`M${p2[0]},${p2[1]}L${bx-uy*half},${by+ux*half}L${bx+uy*half},${by-ux*half}Z`)
    .attr("fill","#f54545").attr("stroke","#f54545").attr("stroke-width",1).attr("stroke-linejoin","round");
}
arrow(redArrowUp,false);
arrow(redDashUp,true);
arrow(redDashDown,true);
arrow(redArrowDown,false);

// shift marker & cursor
plot.append("path").attr("d",`M${x(720)-6},${P.t}L${x(720)+6},${P.t}L${x(720)},${P.t+6}Z`).attr("fill","#a0a0a0");
plot.append("path").attr("d","M0,0L0,22L5,17L9,26L12,25L8,16L15,16Z").attr("transform","translate(146,990)")
  .attr("fill","#fff").attr("stroke","#707070").attr("stroke-width",1.2);

// title
svg.append("path").attr("d","M9,14L21,14L15,22Z").attr("fill","#000");
svg.append("text").attr("x",31).attr("y",25).attr("font-family","'DejaVu Sans', Verdana, sans-serif")
  .attr("font-size",16).attr("fill","#000").attr("xml:space","preserve").style("white-space","pre").text(titleText);

// border
svg.append("rect").attr("x",P.l+0.5).attr("y",P.t+0.5).attr("width",P.r-P.l).attr("height",P.b-P.t)
  .attr("fill","none").attr("stroke","#000").attr("stroke-width",1).attr("shape-rendering","crispEdges");
svg.append("rect").attr("x",0.5).attr("y",0.5).attr("width",3839).attr("height",1995)
  .attr("fill","none").attr("stroke","#a0a0a0").attr("stroke-width",1);

// y axis
const yAxis = d3.axisRight(y).tickValues(yTickValues).tickFormat(d3.format(".2f")).tickSize(4).tickPadding(6);
const ya = svg.append("g").attr("transform",`translate(${P.r+0.5},0)`).call(yAxis);
ya.select(".domain").remove();
ya.selectAll("text").attr("font-family",FONT).attr("font-size",18).attr("fill","#000");
ya.selectAll("line").attr("stroke","#000");

// price boxes
const pb = svg.append("g").attr("font-family",FONT).attr("font-size",18);
function priceBox(p, col) {
  const yy = y(p);
  pb.append("rect").attr("x",P.r+2).attr("y",yy-11.5).attr("width",81).attr("height",23).attr("fill",col);
  pb.append("text").attr("x",P.r+10).attr("y",yy+6.5).attr("fill","#fff").text(d3.format(".2f")(p));
}
priceBox(bidPrice, "#000");
levelPrices.forEach((p,i) => priceBox(p, levelStyle[i].c));

// x axis
const xTickIdx = xTickLabels.map((_,i) => i*barsPerXTick);
const xAxis = d3.axisBottom(x).tickValues(xTickIdx).tickFormat((d,i) => xTickLabels[i]).tickSize(5).tickPadding(4);
const xa = svg.append("g").attr("transform",`translate(0,${P.b+0.5})`).call(xAxis);
xa.select(".domain").remove();
xa.selectAll("text").attr("font-family",FONT).attr("font-size",15.7).attr("fill","#000")
  .attr("text-anchor","start").attr("dx",2);
xa.selectAll("line").attr("stroke","#000");
</script>
</body></html>
